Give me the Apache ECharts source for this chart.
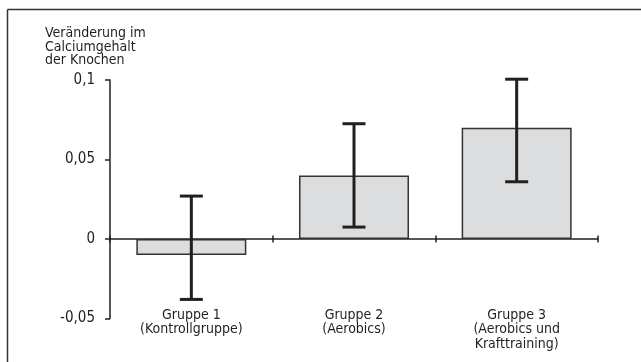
<!DOCTYPE html>
<html>
<head>
<meta charset="utf-8">
<script src="https://cdn.jsdelivr.net/npm/echarts@6/dist/echarts.min.js"></script>
<style>
  html, body { margin: 0; padding: 0; background: #fff; }
  #chart { width: 641px; height: 362px; }
</style>
</head>
<body>
<div id="chart"></div>
<script>
// Groups, mean change in bone calcium and error-bar ends
const categories = ['Gruppe 1\n(Kontrollgruppe)', 'Gruppe 2\n(Aerobics)', 'Gruppe 3\n(Aerobics und\nKrafttraining)'];
const meanValues = [-0.01, 0.04, 0.07];
const errorLow = [-0.038, 0.0075, 0.036];
const errorHigh = [0.027, 0.0725, 0.1005];
const yTitle = 'Veränderung im\nCalciumgehalt\nder Knochen';
const yMin = -0.05, yMax = 0.1, yStep = 0.05;

const FONT = '"DejaVu Sans Condensed", "Liberation Sans Narrow", sans-serif';
const INK = '#231f20';

const chart = echarts.init(document.getElementById('chart'), null, { renderer: 'canvas' });

const errorData = categories.map((c, i) => [i, errorLow[i], errorHigh[i]]);
const gridBox = { left: 110, right: 43, top: 80, bottom: 43.5, containLabel: false, outerBoundsMode: 'none' };

chart.setOption({
  animation: false,
  backgroundColor: '#ffffff',
  title: {
    text: yTitle,
    left: 40,
    top: 22,
    textStyle: { fontFamily: FONT, fontSize: 14, fontWeight: 'normal', color: INK, lineHeight: 13.5 }
  },
  graphic: [
    { type: 'line', shape: { x1: 7.5, y1: 9.5, x2: 645, y2: 9.5 }, style: { stroke: '#333', lineWidth: 1.5 } },
    { type: 'line', shape: { x1: 7.5, y1: 9.5, x2: 7.5, y2: 370 }, style: { stroke: '#333', lineWidth: 1.5 } }
  ],
  // second grid shares the same box; its x axis adds the upward half of the category ticks
  grid: [Object.assign({}, gridBox), Object.assign({}, gridBox)],
  xAxis: [
    {
      type: 'category',
      gridIndex: 0,
      data: categories,
      axisLine: { onZero: true, lineStyle: { color: INK, width: 1.5 } },
      axisTick: { show: true, length: 3.5, lineStyle: { color: INK, width: 1.5 } },
      axisLabel: {
        // labels sit at the bottom edge of the grid, slightly above it
        margin: -10.5, fontFamily: FONT, fontSize: 14, color: INK,
        lineHeight: 14.5, verticalAlign: 'top', interval: 0
      }
    },
    {
      type: 'category',
      gridIndex: 1,
      data: categories,
      axisLine: { show: false, onZero: true },
      axisTick: { show: true, inside: true, length: 3.5, lineStyle: { color: INK, width: 1.5 } },
      axisLabel: { show: false }
    }
  ],
  yAxis: [
    {
      type: 'value',
      gridIndex: 0,
      min: yMin,
      max: yMax,
      interval: yStep,
      splitLine: { show: false },
      axisLine: { show: true, lineStyle: { color: INK, width: 1.5 } },
      axisTick: { show: true, length: 5, lineStyle: { color: INK, width: 1.5 } },
      axisLabel: {
        margin: 15,
        fontFamily: FONT,
        fontSize: 15,
        color: INK,
        formatter: v => String(Math.round(v * 100) / 100).replace('.', ',')
      }
    },
    {
      type: 'value',
      gridIndex: 1,
      min: yMin,
      max: yMax,
      interval: yStep,
      show: false
    }
  ],
  series: [
    {
      type: 'bar',
      data: meanValues,
      barWidth: 110,
      itemStyle: { color: '#dcdddf', borderColor: '#333', borderWidth: 1.5 }
    },
    {
      type: 'custom',
      data: errorData,
      z: 10,
      renderItem: function (params, api) {
        const i = api.value(0);
        const lo = api.coord([i, api.value(1)]);
        const hi = api.coord([i, api.value(2)]);
        const half = 11.5;
        const style = { stroke: INK, lineWidth: 3 };
        return {
          type: 'group',
          children: [
            { type: 'line', shape: { x1: hi[0], y1: hi[1], x2: lo[0], y2: lo[1] }, style },
            { type: 'line', shape: { x1: hi[0] - half, y1: hi[1], x2: hi[0] + half, y2: hi[1] }, style },
            { type: 'line', shape: { x1: lo[0] - half, y1: lo[1], x2: lo[0] + half, y2: lo[1] }, style }
          ]
        };
      }
    }
  ]
});
</script>
</body>
</html>
